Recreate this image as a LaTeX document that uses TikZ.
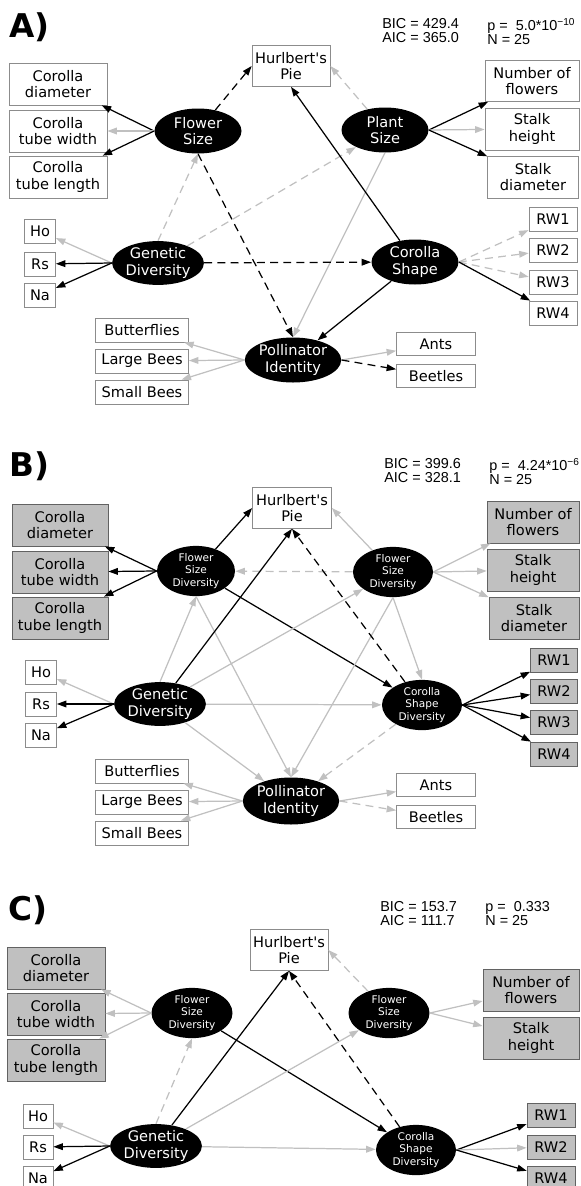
\documentclass[tikz,border=0pt]{standalone}
\usepackage{fontspec}
\setmainfont{DejaVu Sans}
\newfontfamily\statfont{Liberation Sans}
\usetikzlibrary{arrows.meta,shapes.geometric}
\definecolor{lgray}{HTML}{C0C0C0}
\definecolor{frame}{HTML}{8C8C8C}
\definecolor{fillg}{HTML}{C0C0C0}

\begin{document}
\begin{tikzpicture}[
  >={Triangle[length=5.4pt,width=3.8pt]},
  obs/.style={draw=frame, fill=white, align=center, inner sep=0pt, minimum width=1.96cm, minimum height=0.84cm, font=\fontsize{8.3}{9.6}\selectfont},
  obsg/.style={obs, fill=fillg, draw=frame!70!black},
  obss/.style={obs, minimum height=0.48cm},
  lat/.style={ellipse, fill=black, text=white, inner sep=0pt, minimum width=1.74cm, minimum height=0.9cm, align=center, font=\fontsize{8.3}{9.6}\selectfont},
  latd/.style={lat, minimum width=1.6cm, minimum height=0.94cm, font=\fontsize{6}{7.2}\selectfont},
  sig/.style={->, line width=0.7pt, black},
  ns/.style={->, line width=0.7pt, lgray},
  sigd/.style={sig, dash pattern=on 4.5pt off 3pt},
  nsd/.style={ns, dash pattern=on 4.5pt off 3pt},
  panel/.style={anchor=base west, inner sep=0pt, font=\fontsize{18.6}{20}\selectfont\bfseries},
  stat/.style={anchor=north west, inner sep=0pt, align=left, font=\statfont\fontsize{8.2}{7.9}\selectfont},
]
\useasboundingbox (0,0) rectangle (11.6,-23.72);

% --- A) full model
\node[panel] (labA) at (0.18,-0.74) {A)};
\node[stat] (bicA) at (7.64,-0.36) {BIC = 429.4\\AIC = 365.0};
\node[stat] (pvalA) at (9.74,-0.36) {p = \ 5.0*10\textsuperscript{−10}\\N = 25};

\node[obs, minimum width=1.56cm, minimum height=0.82cm] (pieA) at (5.82,-1.32) {Hurlbert\textquotesingle s\\Pie};
\node[obs] (cdA) at (1.16,-1.68) {Corolla\\diameter};
\node[obs] (ctwA) at (1.16,-2.62) {Corolla\\tube width};
\node[obs] (ctlA) at (1.16,-3.54) {Corolla\\tube length};
\node[lat] (fsA) at (3.96,-2.62) {Flower\\Size};
\node[lat] (psA) at (7.70,-2.60) {Plant\\Size};
\node[obs, minimum width=1.88cm, minimum height=0.82cm] (nfA) at (10.64,-1.62) {Number of\\flowers};
\node[obs, minimum width=1.88cm] (shA) at (10.64,-2.58) {Stalk\\height};
\node[obs, minimum width=1.82cm] (sdA) at (10.66,-3.54) {Stalk\\diameter};
\node[obss, minimum width=0.62cm] (hoA) at (0.80,-4.62) {Ho};
\node[obss, minimum width=0.62cm] (rsA) at (0.80,-5.28) {Rs};
\node[obss, minimum width=0.62cm] (naA) at (0.80,-5.90) {Na};
\node[lat, minimum height=0.84cm] (gdA) at (3.16,-5.26) {Genetic\\Diversity};
\node[lat] (csA) at (8.30,-5.24) {Corolla\\Shape};
\node[obss, minimum width=0.96cm] (rw1A) at (11.06,-4.38) {RW1};
\node[obss, minimum width=0.96cm] (rw2A) at (11.06,-5.00) {RW2};
\node[obss, minimum width=0.96cm] (rw3A) at (11.06,-5.64) {RW3};
\node[obss, minimum width=0.96cm] (rw4A) at (11.06,-6.26) {RW4};
\node[obss, minimum width=1.86cm] (bfA) at (2.84,-6.60) {Butterflies};
\node[obss, minimum width=1.86cm] (lbA) at (2.84,-7.22) {Large Bees};
\node[obss, minimum width=1.86cm] (sbA) at (2.84,-7.84) {Small Bees};
\node[lat, minimum width=1.86cm] (piA) at (5.86,-7.20) {Pollinator\\Identity};
\node[obss, minimum width=1.58cm, minimum height=0.46cm] (antsA) at (8.72,-6.88) {Ants};
\node[obss, minimum width=1.58cm, minimum height=0.46cm] (beetA) at (8.72,-7.52) {Beetles};

\draw[sig] (fsA.west) -- (cdA);
\draw[ns] (fsA.west) -- (ctwA);
\draw[sig] (fsA.west) -- (ctlA);
\draw[sigd] (fsA) -- (pieA.west);
\draw[sigd] (fsA.south) -- (piA.north);
\draw[nsd] (psA) -- (pieA.east);
\draw[sig] (psA.east) -- (nfA);
\draw[ns] (psA.east) -- (shA);
\draw[sig] (psA.east) -- (sdA);
\draw[ns] (psA.south) -- (piA.north);
\draw[ns] (gdA.west) -- (hoA);
\draw[sig] (gdA.west) -- (rsA);
\draw[sig] (gdA.west) -- (naA);
\draw[nsd] (gdA.north) -- (fsA.south);
\draw[nsd] (gdA) -- (psA);
\draw[sigd] (gdA) -- (csA);
\draw[sig] (csA) -- (pieA.south);
\draw[sig] (csA) -- (piA);
\draw[nsd] (csA.east) -- (rw1A);
\draw[nsd] (csA.east) -- (rw2A);
\draw[nsd] (csA.east) -- (rw3A);
\draw[sig] (csA.east) -- (rw4A);
\draw[ns] (piA.west) -- (bfA);
\draw[ns] (piA.west) -- (lbA);
\draw[ns] (piA.west) -- (sbA);
\draw[ns] (piA.east) -- (antsA);
\draw[sigd] (piA.east) -- (beetA);

% --- B) diversity model
\node[panel] (labB) at (0.18,-9.52) {B)};
\node[stat] (bicB) at (7.68,-9.16) {BIC = 399.6\\AIC = 328.1};
\node[stat] (pvalB) at (9.78,-9.16) {p = \ 4.24*10\textsuperscript{−6}\\N = 25};

\node[obs, minimum width=1.58cm, minimum height=0.82cm] (pieB) at (5.84,-10.16) {Hurlbert\textquotesingle s\\Pie};
\node[obsg, minimum width=1.92cm] (cdB) at (1.20,-10.50) {Corolla\\diameter};
\node[obsg, minimum width=1.92cm] (ctwB) at (1.20,-11.44) {Corolla\\tube width};
\node[obsg, minimum width=1.92cm] (ctlB) at (1.20,-12.36) {Corolla\\tube length};
\node[latd, minimum width=1.56cm] (fsdlB) at (3.92,-11.42) {Flower\\Size\\Diversity};
\node[latd, minimum height=0.88cm] (fsdrB) at (7.86,-11.44) {Flower\\Size\\Diversity};
\node[obsg, minimum width=1.84cm] (nfB) at (10.66,-10.44) {Number of\\flowers};
\node[obsg, minimum width=1.84cm] (shB) at (10.66,-11.40) {Stalk\\height};
\node[obsg, minimum width=1.80cm] (sdB) at (10.68,-12.36) {Stalk\\diameter};
\node[obss, minimum width=0.62cm] (hoB) at (0.82,-13.44) {Ho};
\node[obss, minimum width=0.62cm] (rsB) at (0.82,-14.08) {Rs};
\node[obss, minimum width=0.62cm] (naB) at (0.82,-14.70) {Na};
\node[lat, minimum height=0.84cm] (gdB) at (3.20,-14.08) {Genetic\\Diversity};
\node[latd] (csdB) at (8.44,-14.10) {Corolla\\Shape\\Diversity};
\node[obsg, minimum width=0.94cm, minimum height=0.48cm] (rw1B) at (11.08,-13.20) {RW1};
\node[obsg, minimum width=0.94cm, minimum height=0.48cm] (rw2B) at (11.08,-13.82) {RW2};
\node[obsg, minimum width=0.94cm, minimum height=0.48cm] (rw3B) at (11.08,-14.44) {RW3};
\node[obsg, minimum width=0.94cm, minimum height=0.48cm] (rw4B) at (11.08,-15.08) {RW4};
\node[obss, minimum width=1.86cm] (bfB) at (2.84,-15.42) {Butterflies};
\node[obss, minimum width=1.86cm] (lbB) at (2.84,-16.04) {Large Bees};
\node[obss, minimum width=1.86cm] (sbB) at (2.84,-16.66) {Small Bees};
\node[lat, minimum width=1.86cm, minimum height=0.94cm] (piB) at (5.82,-16.02) {Pollinator\\Identity};
\node[obss, minimum width=1.58cm, minimum height=0.46cm] (antsB) at (8.72,-15.70) {Ants};
\node[obss, minimum width=1.58cm, minimum height=0.46cm] (beetB) at (8.72,-16.34) {Beetles};

\draw[sig] (fsdlB.west) -- (cdB);
\draw[sig] (fsdlB.west) -- (ctwB);
\draw[sig] (fsdlB.west) -- (ctlB);
\draw[sig] (fsdlB) -- (pieB.west);
\draw[sig] (fsdlB) -- (csdB);
\draw[ns] (fsdlB.south) -- (piB.north);
\draw[nsd] (fsdrB) -- (fsdlB);
\draw[ns] (fsdrB) -- (pieB.east);
\draw[ns] (fsdrB.east) -- (nfB);
\draw[ns] (fsdrB.east) -- (shB);
\draw[ns] (fsdrB.east) -- (sdB);
\draw[ns] (fsdrB.south) -- (csdB.north);
\draw[ns] (fsdrB.south) -- (piB.north);
\draw[ns] (gdB.west) -- (hoB);
\draw[sig] (gdB.west) -- (rsB);
\draw[sig] (gdB.west) -- (naB);
\draw[ns] (gdB.north) -- (fsdlB.south);
\draw[ns] (gdB) -- (fsdrB);
\draw[sig] (gdB) -- (pieB.south);
\draw[ns] (gdB) -- (csdB);
\draw[ns] (gdB) -- (piB);
\draw[sigd] (csdB) -- (pieB.south);
\draw[sig] (csdB.east) -- (rw1B);
\draw[sig] (csdB.east) -- (rw2B);
\draw[sig] (csdB.east) -- (rw3B);
\draw[sig] (csdB.east) -- (rw4B);
\draw[nsd] (csdB) -- (piB);
\draw[ns] (piB.west) -- (bfB);
\draw[ns] (piB.west) -- (lbB);
\draw[ns] (piB.west) -- (sbB);
\draw[ns] (piB.east) -- (antsB);
\draw[nsd] (piB.east) -- (beetB);

% --- C) reduced model
\node[panel] (labC) at (0.16,-18.40) {C)};
\node[stat] (bicC) at (7.60,-18.02) {BIC = 153.7\\AIC = 111.7};
\node[stat] (pvalC) at (9.70,-18.02) {p = \ 0.333\\N = 25};

\node[obs, minimum width=1.56cm, minimum height=0.82cm] (pieC) at (5.78,-19.00) {Hurlbert\textquotesingle s\\Pie};
\node[obsg] (cdC) at (1.12,-19.36) {Corolla\\diameter};
\node[obsg] (ctwC) at (1.12,-20.28) {Corolla\\tube width};
\node[obsg] (ctlC) at (1.12,-21.20) {Corolla\\tube length};
\node[latd, minimum width=1.62cm] (fsdlC) at (3.84,-20.26) {Flower\\Size\\Diversity};
\node[latd, minimum width=1.62cm, minimum height=0.9cm] (fsdrC) at (7.78,-20.26) {Flower\\Size\\Diversity};
\node[obsg, minimum width=1.92cm] (nfC) at (10.62,-19.80) {Number of\\flowers};
\node[obsg, minimum width=1.92cm] (shC) at (10.62,-20.76) {Stalk\\height};
\node[obss, minimum width=0.60cm] (hoC) at (0.76,-22.32) {Ho};
\node[obss, minimum width=0.60cm] (rsC) at (0.76,-22.94) {Rs};
\node[obss, minimum width=0.60cm] (naC) at (0.76,-23.56) {Na};
\node[lat, minimum height=0.86cm] (gdC) at (3.12,-22.92) {Genetic\\Diversity};
\node[latd] (csdC) at (8.32,-23.00) {Corolla\\Shape\\Diversity};
\node[obsg, minimum width=0.96cm, minimum height=0.48cm] (rw1C) at (11.02,-22.30) {RW1};
\node[obsg, minimum width=0.96cm, minimum height=0.48cm] (rw2C) at (11.02,-22.94) {RW2};
\node[obsg, minimum width=0.96cm, minimum height=0.48cm] (rw4C) at (11.02,-23.56) {RW4};

\draw[ns] (fsdlC.west) -- (cdC);
\draw[ns] (fsdlC.west) -- (ctwC);
\draw[ns] (fsdlC.west) -- (ctlC);
\draw[sig] (fsdlC) -- (csdC);
\draw[nsd] (fsdrC) -- (pieC.east);
\draw[ns] (fsdrC.east) -- (nfC);
\draw[ns] (fsdrC.east) -- (shC);
\draw[ns] (gdC.west) -- (hoC);
\draw[sig] (gdC.west) -- (rsC);
\draw[sig] (gdC.west) -- (naC);
\draw[nsd] (gdC.north) -- (fsdlC.south);
\draw[sig] (gdC) -- (pieC.south);
\draw[ns] (gdC) -- (fsdrC);
\draw[ns] (gdC) -- (csdC);
\draw[sigd] (csdC) -- (pieC.south);
\draw[sig] (csdC.east) -- (rw1C);
\draw[ns] (csdC.east) -- (rw2C);
\draw[sig] (csdC.east) -- (rw4C);

\end{tikzpicture}
\end{document}
